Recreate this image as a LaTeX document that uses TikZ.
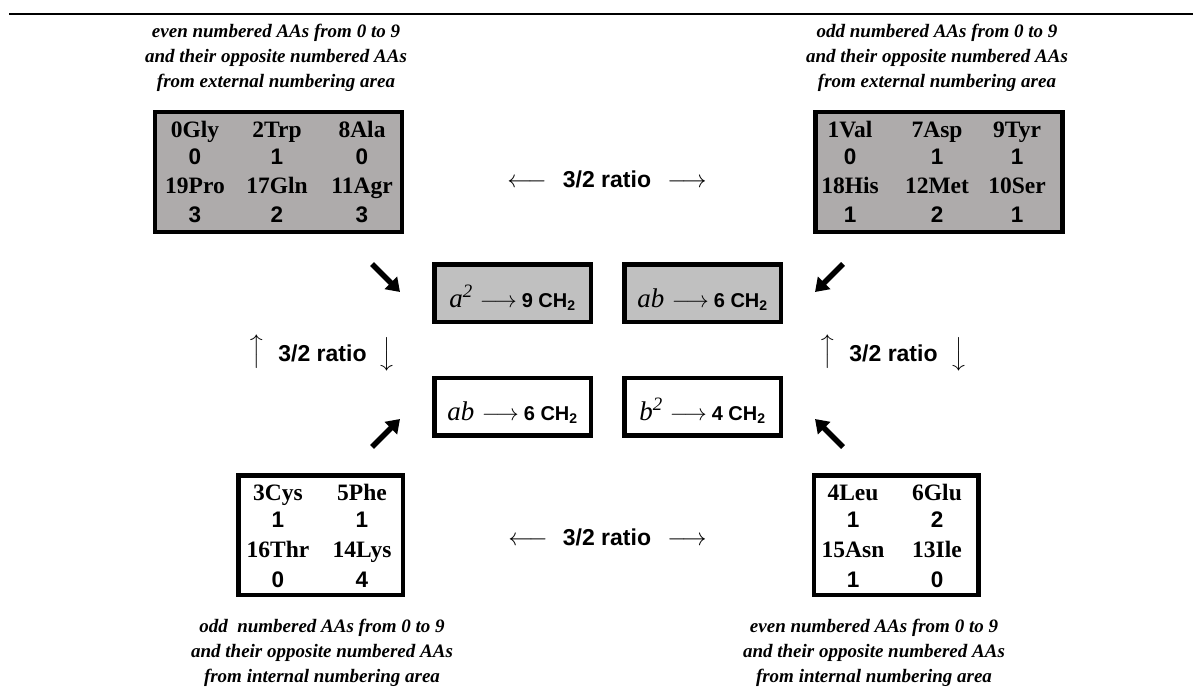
\documentclass[tikz,border=0pt]{standalone}
\usepackage{fontspec}
\usepackage{graphicx}
\setmainfont{Liberation Serif}
\newfontfamily\ari{Liberation Sans}
\usetikzlibrary{arrows.meta}
\definecolor{aagray}{RGB}{174,171,171}
\definecolor{ctrgray}{RGB}{192,192,192}
\newcommand{\bigrarr}[1]{\scalebox{#1}{\normalsize$\longrightarrow$}}
\newcommand{\biglarr}[1]{\scalebox{#1}{\normalsize$\longleftarrow$}}
\begin{document}
\begin{tikzpicture}[x=1pt,y=-1pt,
  aabox/.style={draw,line width=4.5pt,minimum width=247pt,minimum height=119.5pt,inner sep=0pt},
  smallbox/.style={aabox,minimum width=164.5pt,minimum height=119.5pt},
  ctrbox/.style={draw,line width=4.5pt,minimum width=156.5pt,minimum height=57.5pt,inner sep=0pt},
  aaname/.style={anchor=base,inner sep=0pt,font=\fontsize{23.5}{26}\selectfont\bfseries},
  aanum/.style={anchor=base,inner sep=0pt,font=\fontsize{22.5}{26}\selectfont\ari\bfseries},
  caption/.style={align=center,inner sep=0pt,font=\fontsize{19}{25}\selectfont\bfseries\itshape},
  ratio/.style={anchor=base,inner sep=0pt,font=\fontsize{23}{26}\selectfont\ari\bfseries},
  thinarr/.style={inner sep=0pt},
  ctrtext/.style={anchor=base,inner sep=0pt},
  bigarrow/.style={line width=5.5pt,-{Triangle[length=13pt,width=17pt]}},
]
\useasboundingbox (0,0) rectangle (1193,690);
\draw[line width=2.5pt] (9,14) -- (1193,14);

% captions
\node[caption] (captl) at (276,57.5) {even numbered AAs from 0 to 9\\and their opposite numbered AAs\\from external numbering area};
\node[caption] (captr) at (937,57.5) {odd numbered AAs from 0 to 9\\and their opposite numbered AAs\\from external numbering area};
\node[caption] (capbl) at (322,652.5) {odd\ \ numbered AAs from 0 to 9\\and their opposite numbered AAs\\from internal numbering area};
\node[caption] (capbr) at (874,652.5) {even numbered AAs from 0 to 9\\and their opposite numbered AAs\\from internal numbering area};

% AA boxes
\node[aabox,fill=aagray] (tl) at (278.5,172) {};
\node[aabox,fill=aagray] (tr) at (939,172) {};
\node[smallbox] (bl) at (320.5,535) {};
\node[smallbox] (br) at (896,535) {};

% top-left contents
\node[aaname] (tl11) at (195,137) {0Gly};
\node[aaname] (tl12) at (277,137) {2Trp};
\node[aaname] (tl13) at (362,137) {8Ala};
\node[aanum]  (tl21) at (195,164.5) {0};
\node[aanum]  (tl22) at (277,164.5) {1};
\node[aanum]  (tl23) at (362,164.5) {0};
\node[aaname] (tl31) at (195,193.5) {19Pro};
\node[aaname] (tl32) at (277,193.5) {17Gln};
\node[aaname] (tl33) at (362,193.5) {11Agr};
\node[aanum]  (tl41) at (195,222.5) {3};
\node[aanum]  (tl42) at (277,222.5) {2};
\node[aanum]  (tl43) at (362,222.5) {3};

% top-right contents
\node[aaname] (tr11) at (850,137) {1Val};
\node[aaname] (tr12) at (937,137) {7Asp};
\node[aaname] (tr13) at (1017,137) {9Tyr};
\node[aanum]  (tr21) at (850,164.5) {0};
\node[aanum]  (tr22) at (937,164.5) {1};
\node[aanum]  (tr23) at (1017,164.5) {1};
\node[aaname] (tr31) at (850,193.5) {18His};
\node[aaname] (tr32) at (937,193.5) {12Met};
\node[aaname] (tr33) at (1017,193.5) {10Ser};
\node[aanum]  (tr41) at (850,222.5) {1};
\node[aanum]  (tr42) at (937,222.5) {2};
\node[aanum]  (tr43) at (1017,222.5) {1};

% bottom-left contents
\node[aaname] (bl11) at (278,500) {3Cys};
\node[aaname] (bl12) at (362,500) {5Phe};
\node[aanum]  (bl21) at (278,527.5) {1};
\node[aanum]  (bl22) at (362,527.5) {1};
\node[aaname] (bl31) at (278,557.5) {16Thr};
\node[aaname] (bl32) at (362,557.5) {14Lys};
\node[aanum]  (bl41) at (278,587) {0};
\node[aanum]  (bl42) at (362,587) {4};

% bottom-right contents
\node[aaname] (br11) at (853,500) {4Leu};
\node[aaname] (br12) at (937,500) {6Glu};
\node[aanum]  (br21) at (853,527.5) {1};
\node[aanum]  (br22) at (937,527.5) {2};
\node[aaname] (br31) at (853,557.5) {15Asn};
\node[aaname] (br32) at (937,557.5) {13Ile};
\node[aanum]  (br41) at (853,587) {1};
\node[aanum]  (br42) at (937,587) {0};

% central boxes
\node[ctrbox,fill=ctrgray] (c1) at (512.5,293) {};
\node[ctrbox,fill=ctrgray] (c2) at (702.5,293) {};
\node[ctrbox] (c3) at (512.5,406.5) {};
\node[ctrbox] (c4) at (702.5,406.5) {};
\newcommand{\ctrtxt}[3]{{\fontsize{27}{30}\selectfont\itshape #1\textsuperscript{#2}}\hspace{7pt}\bigrarr{2.3}\hspace{5pt}{\ari\bfseries\fontsize{20}{24}\selectfont #3 CH\textsubscript{2}}}
\node[ctrtext] (c1t) at (512.5,307) {\ctrtxt{a}{2}{9}};
\node[ctrtext] (c2t) at (702.5,307) {\ctrtxt{ab}{}{6}};
\node[ctrtext] (c3t) at (512.5,420) {\ctrtxt{ab}{}{6}};
\node[ctrtext] (c4t) at (702.5,420) {\ctrtxt{b}{2}{4}};

% ratio labels
\node[ratio] (rtop) at (607,187) {3/2 ratio};
\node[thinarr,anchor=base] (rtopl) at (527,187) {\biglarr{2.45}};
\node[thinarr,anchor=base] (rtopr) at (687,187) {\bigrarr{2.45}};
\node[ratio] (rbot) at (607,545) {3/2 ratio};
\node[thinarr,anchor=base] (rbotl) at (528,545) {\biglarr{2.45}};
\node[thinarr,anchor=base] (rbotr) at (687,545) {\bigrarr{2.45}};
\node[ratio] (rleft) at (322.5,361) {3/2 ratio};
\node[thinarr] (rleftu) at (258,352) {\rotatebox{90}{\bigrarr{2.3}}};
\node[thinarr] (rleftd) at (385,354) {\rotatebox{-90}{\bigrarr{2.3}}};
\node[ratio] (rright) at (893.5,361) {3/2 ratio};
\node[thinarr] (rrightu) at (829,352) {\rotatebox{90}{\bigrarr{2.3}}};
\node[thinarr] (rrightd) at (957,354) {\rotatebox{-90}{\bigrarr{2.3}}};

% thick arrows
\coordinate (a1s) at (372,264); \coordinate (a1e) at (400,292);
\coordinate (a2s) at (843,264); \coordinate (a2e) at (815,292);
\coordinate (a3s) at (372,447); \coordinate (a3e) at (400,419);
\coordinate (a4s) at (843,447); \coordinate (a4e) at (815,419);
\draw[bigarrow] (a1s) -- (a1e);
\draw[bigarrow] (a2s) -- (a2e);
\draw[bigarrow] (a3s) -- (a3e);
\draw[bigarrow] (a4s) -- (a4e);
\end{tikzpicture}
\end{document}
